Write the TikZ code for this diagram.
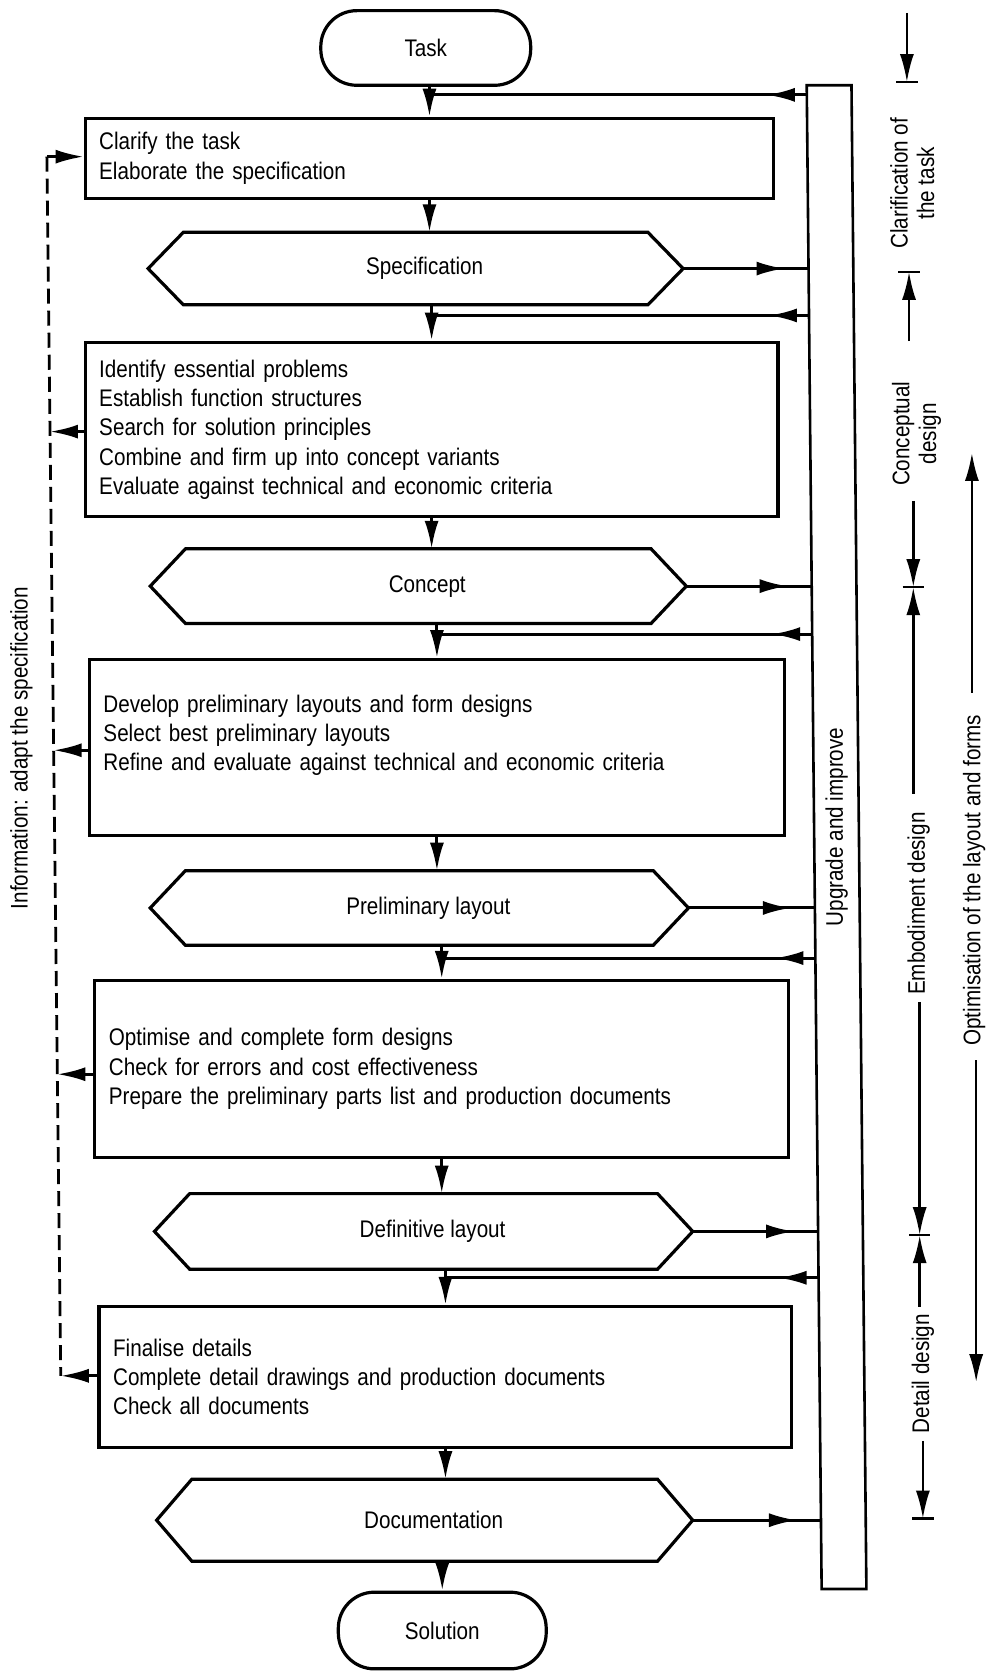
\documentclass[tikz,border=0pt]{standalone}
\usepackage{fontspec}
\setmainfont{Liberation Sans}[FakeStretch=0.86]
\usetikzlibrary{arrows.meta,decorations.markings}

% horizontal cut of the hexagonal result boxes
\newlength\hexcut
\setlength\hexcut{17.6pt}
\newcommand\drawhex[1]{%
  \draw[shapeline] (#1.west) -- ([xshift=\hexcut]#1.north west)
    -- ([xshift=-\hexcut]#1.north east) -- (#1.east)
    -- ([xshift=-\hexcut]#1.south east) -- ([xshift=\hexcut]#1.south west) -- cycle;}

\begin{document}
\begin{tikzpicture}[
  x=0.5326pt, y=-0.5326pt,
  >={Latex[length=14pt,width=7pt]},
  every node/.style={font=\fontsize{12pt}{14.65pt}\selectfont},
  shapeline/.style={line width=1.6pt, line join=miter},
  terminal/.style={draw, line width=1.6pt, rounded corners=18pt},
  stepbox/.style={draw, line width=1.6pt, align=left, inner xsep=7pt, inner ysep=0pt},
  hexnode/.style={inner sep=0pt, outer sep=0pt, execute at begin node={\hspace*{9pt}}},
  flow/.style={line width=1.5pt, ->},
  feedback/.style={line width=1.5pt, postaction={decorate},
    decoration={markings, mark=at position 20pt with {\arrow{>}}}},
  tobar/.style={line width=1.5pt, postaction={decorate},
    decoration={markings, mark=at position -12pt with {\arrow{>}}}},
  infoline/.style={line width=1.4pt, dash pattern=on 7.5pt off 3.5pt},
  infoarrow/.style={line width=1.4pt, ->},
  phase/.style={line width=1.2pt},
  phasearrow/.style={line width=1.2pt, ->},
  sidelabel/.style={rotate=90, align=center, font=\fontsize{12pt}{13.3pt}\selectfont},
]
\useasboundingbox (0,0) rectangle (935,1568);

% ---- main chain of steps and results
\node[terminal, minimum width=104.9pt, minimum height=37.3pt] (task) at (399.5,45) {Task};

\node[stepbox, text width=330.1pt, minimum height=39.9pt] (b1) at (403,148.5)
  {Clarify the task\\Elaborate the specification};

\node[hexnode, minimum width=267.4pt, minimum height=36.2pt] (spec) at (390,252) {Specification};

\node[stepbox, text width=332.2pt, minimum height=87.3pt] (b2) at (405,403)
  {Identify essential problems\\Establish function structures\\Search for solution principles\\Combine and firm up into concept variants\\Evaluate against technical and economic criteria};

\node[hexnode, minimum width=267.9pt, minimum height=37.3pt] (concept) at (392.5,550) {Concept};

\node[stepbox, text width=333.3pt, minimum height=87.9pt] (b3) at (410,701.5)
  {Develop preliminary layouts and form designs\\Select best preliminary layouts\\Refine and evaluate against technical and economic criteria\\\mbox{}};

\node[hexnode, minimum width=269pt, minimum height=37.3pt] (prelim) at (393.5,852) {Preliminary layout};

\node[stepbox, text width=332.7pt, minimum height=88.4pt] (b4) at (414.5,1003)
  {Optimise and complete form designs\\Check for errors and cost effectiveness\\Prepare the preliminary parts list and production documents};

\node[hexnode, minimum width=269pt, minimum height=37.8pt] (deflayout) at (397.5,1155.5) {Definitive layout};

\node[stepbox, text width=332.2pt, minimum height=70.3pt] (b5) at (418,1292)
  {Finalise details\\Complete detail drawings and production documents\\Check all documents};

\node[hexnode, minimum width=267.9pt, minimum height=41pt] (doc) at (398.5,1426.5) {Documentation};

\node[terminal, minimum width=103.9pt, minimum height=38.3pt] (sol) at (415,1530) {Solution};

\drawhex{spec}
\drawhex{concept}
\drawhex{prelim}
\drawhex{deflayout}
\drawhex{doc}

% ---- downward flow
\draw[flow] (task.south -| b1.north) -- (b1.north);
\draw[flow] (b1.south) -- (b1.south |- spec.north);
\draw[flow] (spec.south -| b2.north) -- (b2.north);
\draw[flow] (b2.south) -- (b2.south |- concept.north);
\draw[flow] (concept.south -| b3.north) -- (b3.north);
\draw[flow] (b3.south) -- (b3.south |- prelim.north);
\draw[flow] (prelim.south -| b4.north) -- (b4.north);
\draw[flow] (b4.south) -- (b4.south |- deflayout.north);
\draw[flow] (deflayout.south -| b5.north) -- (b5.north);
\draw[flow] (b5.south) -- (b5.south |- doc.north);
\draw[flow] (doc.south -| sol.north) -- (sol.north);

% ---- upgrade and improve bar
\coordinate (barNW) at (757,80);
\coordinate (barNE) at (799,80);
\coordinate (barSE) at (813,1491);
\coordinate (barSW) at (771,1491);
\draw[line width=1.3pt] (barNW) -- (barNE) -- (barSE) -- (barSW) -- cycle;
\node[rotate=90] (barlabel) at (785,776) {Upgrade and improve};

% results fed to the bar
\coordinate (outSpec) at (758.7,252);
\coordinate (outConc) at (761.7,550);
\coordinate (outPrel) at (764.7,852);
\coordinate (outDef)  at (767.7,1155.5);
\coordinate (outDoc)  at (770.4,1426.5);
\draw[tobar] (spec.east) -- (outSpec);
\draw[tobar] (concept.east) -- (outConc);
\draw[tobar] (prelim.east) -- (outPrel);
\draw[tobar] (deflayout.east) -- (outDef);
\draw[tobar] (doc.east) -- (outDoc);

% returns from the bar into the flow
\coordinate (in0) at (757.1,89);
\coordinate (in1) at (759.1,296);
\coordinate (in2) at (762.1,595);
\coordinate (in3) at (765.1,899);
\coordinate (in4) at (768.1,1199);
\draw[feedback] (in0) -- (in0 -| b1.north);
\draw[feedback] (in1) -- (in1 -| b2.north);
\draw[feedback] (in2) -- (in2 -| b3.north);
\draw[feedback] (in3) -- (in3 -| b4.north);
\draw[feedback] (in4) -- (in4 -| b5.north);

% ---- information line on the left
\coordinate (iTop) at (44,147);
\coordinate (i2) at (46.9,405);
\coordinate (i3) at (50.3,704);
\coordinate (i4) at (53.8,1008);
\coordinate (iBot) at (57,1291);
\draw[infoline] (iTop) -- (iBot);
\draw[infoarrow] (iTop) -- (iTop -| b1.west);
\draw[infoarrow] (i2 -| b2.west) -- (i2);
\draw[infoarrow] (i3 -| b3.west) -- (i3);
\draw[infoarrow] (i4 -| b4.west) -- (i4);
\draw[infoarrow] (iBot -| b5.west) -- (iBot);
\node[sidelabel] (infolabel) at (20,702) {Information: adapt the specification};

% ---- phases on the right
\coordinate (pa0) at (851,12);  \coordinate (pt0) at (851,77);
\coordinate (pa1) at (853,320); \coordinate (pt1) at (853,255);
\coordinate (pa2) at (857,470); \coordinate (pt2) at (857,551); \coordinate (pb2) at (857,745);
\coordinate (pa3) at (863,940); \coordinate (pt3) at (863,1159); \coordinate (pb3) at (863,1226);
\coordinate (pa4) at (866,1352); \coordinate (pt4) at (866,1425);

\draw[phasearrow] (pa0) -- (pt0);
\draw[phasearrow] (pa1) -- (pt1);
\draw[phasearrow] (pa2) -- (pt2);
\draw[phasearrow] (pb2) -- (pt2);
\draw[phasearrow] (pa3) -- (pt3);
\draw[phasearrow] (pb3) -- (pt3);
\draw[phasearrow] (pa4) -- (pt4);
\foreach \t in {pt0,pt1,pt2,pt3,pt4}
  \draw[phase] (\t) ++(-10,0) -- ++(20,0);

\node[sidelabel] (lclar) at (856,172) {Clarification of\\the task};
\node[sidelabel] (lconc) at (860,407) {Conceptual\\design};
\node[sidelabel] (lemb)  at (862,848) {Embodiment design};
\node[sidelabel] (ldet)  at (866,1289) {Detail design};

% optimisation runs over embodiment and detail design
\coordinate (oa) at (912,650); \coordinate (ot) at (912,425);
\coordinate (ob) at (916,995); \coordinate (oe) at (916,1297);
\draw[phasearrow] (oa) -- (ot);
\draw[phasearrow] (ob) -- (oe);
\node[sidelabel] (lopt) at (914,826) {Optimisation of the layout and forms};
\end{tikzpicture}
\end{document}
